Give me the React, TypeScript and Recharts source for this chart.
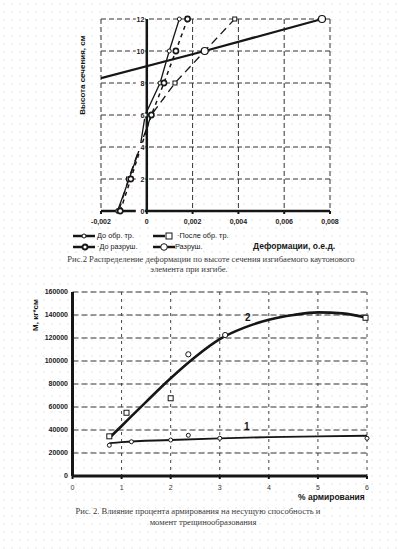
import {
  LineChart, ComposedChart, Line, Scatter, XAxis, YAxis,
  CartesianGrid, ReferenceLine, ReferenceDot,
} from 'recharts';

// ---- Рис.2 (верх): деформации по высоте сечения ----
const DEF_TICKS = [-0.002, 0, 0.002, 0.004, 0.006, 0.008];
const HEIGHT_TICKS = [0, 2, 4, 6, 8, 10, 12];

const beforeCrack = [
  { x: -0.00128, y: 0 }, { x: -0.00077, y: 2 }, { x: -0.00029, y: 4 },
  { x: -0.00007, y: 6 }, { x: 0.00058, y: 8 }, { x: 0.00098, y: 10 }, { x: 0.00142, y: 12 },
];
const afterCrack = [
  { x: -0.00122, y: 0 }, { x: -0.0008, y: 2 }, { x: -0.0003, y: 4 },
  { x: 0.0002, y: 6 }, { x: 0.00123, y: 8 }, { x: 0.00253, y: 10 }, { x: 0.00384, y: 12 },
];
const beforeFail = [
  { x: -0.00116, y: 0 }, { x: -0.0007, y: 2 }, { x: -0.00025, y: 4 },
  { x: 0.0002, y: 6 }, { x: 0.00075, y: 8 }, { x: 0.00127, y: 10 }, { x: 0.00178, y: 12 },
];
const failure = [
  { x: -0.002, y: 8.3 }, { x: 0.00253, y: 10 }, { x: 0.00765, y: 12 },
];

// ---- Рис. 2 (низ): влияние процента армирования ----
const ARM_TICKS = [0, 1, 2, 3, 4, 5, 6];
const M_TICKS = [0, 20000, 40000, 60000, 80000, 100000, 120000, 140000, 160000];

const curve2 = [
  { x: 0.75, y: 33000 }, { x: 1, y: 43500 }, { x: 1.5, y: 64500 }, { x: 2, y: 85000 },
  { x: 2.5, y: 103500 }, { x: 3, y: 119000 }, { x: 3.5, y: 129000 }, { x: 4, y: 135800 },
  { x: 4.5, y: 140000 }, { x: 5, y: 142300 }, { x: 5.5, y: 141400 }, { x: 6, y: 137600 },
];
const curve1 = [
  { x: 0.75, y: 28500 }, { x: 1, y: 29500 }, { x: 2, y: 31300 }, { x: 3, y: 32800 },
  { x: 4, y: 33800 }, { x: 5, y: 34500 }, { x: 6, y: 35000 },
];
const squares2 = [
  { x: 0.75, y: 34500 }, { x: 1.1, y: 55000 }, { x: 2, y: 67600 }, { x: 5.97, y: 137600 },
];
const circles2 = [{ x: 2.36, y: 105800 }, { x: 3.11, y: 122600 }];
const points1 = [
  { x: 0.75, y: 26700 }, { x: 1.2, y: 29800 }, { x: 2, y: 31300 },
  { x: 2.36, y: 35400 }, { x: 3, y: 32800 }, { x: 6, y: 32800 },
];

const INK = '#161616';
const SANS = '"Liberation Sans", Arial, sans-serif';
const SERIF = '"Liberation Serif", "Times New Roman", serif';

const fmtDef = (v: number) => (v === 0 ? '0' : v.toFixed(3).replace('.', ','));

const openCircle = (r: number, sw = 1) => (p: any) =>
  <circle key={p.index} cx={p.cx} cy={p.cy} r={r} fill="#fff" stroke={INK} strokeWidth={sw} />;
const openSquare = (s: number) => (p: any) =>
  <rect key={p.index} x={p.cx - s / 2} y={p.cy - s / 2} width={s} height={s} fill="#fff" stroke={INK} strokeWidth={1} />;
const failDot = (p: any) =>
  p.index === 0 ? <g key={p.index} /> : openCircle(3.5, 1.2)(p);

function Icon({ kind }: { kind: string }) {
  return (
    <svg width={22} height={8} style={{ verticalAlign: 'middle' }}>
      <line x1={0} y1={4} x2={kind === 'sq' ? 12 : 22} y2={4} stroke={INK} strokeWidth={2.5} />
      {kind === 'c' && <circle cx={11} cy={4} r={2} fill="#fff" stroke={INK} />}
      {kind === 'sq' && <rect x={13} y={1} width={6} height={6} fill="#fff" stroke={INK} />}
      {kind === 'd' && <circle cx={12} cy={4} r={2.5} fill="#fff" stroke={INK} strokeWidth={1.8} />}
      {kind === 'C' && <circle cx={11} cy={4} r={3.3} fill="#fff" stroke={INK} />}
    </svg>
  );
}

const abs = (left: number, top: number, extra: any = {}) => ({
  position: 'absolute' as const, left, top, whiteSpace: 'nowrap' as const, ...extra,
});

export default function App() {
  return (
    <div style={{
      position: 'absolute', left: 0, top: 0, width: 398, height: 549, background: '#fff',
      backgroundImage: 'radial-gradient(circle, #d2d2d2 0.5px, transparent 0.8px)',
      backgroundSize: '8px 8px', fontFamily: SANS, color: INK,
    }}>
      <div style={abs(0, 0)}>
        <LineChart width={398} height={245} margin={{ top: 19, right: 68, left: 101, bottom: 4 }}>
          <CartesianGrid strokeDasharray="5 3" stroke="#333" />
          <XAxis type="number" dataKey="x" domain={[-0.002, 0.008]} ticks={DEF_TICKS}
            allowDataOverflow tickFormatter={fmtDef} height={30}
            axisLine={{ stroke: INK, strokeWidth: 2.5 }} tickLine={{ stroke: INK, strokeWidth: 2 }}
            tickSize={3} tickMargin={5}
            tick={{ fontSize: 7, fontWeight: 'bold', fill: '#222', fontFamily: SANS }} />
          <YAxis type="number" dataKey="y" domain={[0, 12]} ticks={HEIGHT_TICKS} hide width={0} />
          <ReferenceLine x={0} stroke={INK} strokeWidth={2.5} />
          <Line data={beforeCrack} dataKey="y" stroke={INK} strokeWidth={1.3}
            dot={openCircle(2)} isAnimationActive={false} />
          <Line data={afterCrack} dataKey="y" stroke={INK} strokeWidth={1.3} strokeDasharray="8 5"
            dot={openSquare(4)} isAnimationActive={false} />
          <Line data={beforeFail} dataKey="y" stroke={INK} strokeWidth={1.5} strokeDasharray="4 4"
            dot={openCircle(2.6, 1.6)} isAnimationActive={false} />
          <Line data={failure} dataKey="y" stroke={INK} strokeWidth={2.2}
            dot={failDot} isAnimationActive={false} />
          {HEIGHT_TICKS.map(v => (
            <ReferenceDot key={v} x={0} y={v} r={0} shape={(p: any) => (
              <g>
                <rect x={p.cx - 11} y={p.cy - 4} width={9} height={8} fill="#fff" />
                <text x={p.cx - 2.5} y={p.cy + 2.5} textAnchor="end" fontSize={7}
                  fontWeight="bold" fill="#222" fontFamily={SANS}>{v}</text>
              </g>
            )} />
          ))}
        </LineChart>
      </div>

      <div style={abs(81.5, 75, { transform: 'translate(-50%, -50%) rotate(-90deg)', fontSize: 8, fontWeight: 'bold' })}>
        Высота сечения, см
      </div>

      <div style={abs(73, 230, { fontSize: 7.3, lineHeight: '11px' })}>
        <div><Icon kind="c" /> До обр. тр.</div>
        <div><Icon kind="d" /> ·До разруш.</div>
      </div>
      <div style={abs(153, 230, { fontSize: 7.3, lineHeight: '11px' })}>
        <div><Icon kind="sq" /> ·После обр. тр.</div>
        <div><Icon kind="C" />Разруш.</div>
      </div>
      <div style={abs(253, 241, { fontSize: 8.5, fontWeight: 'bold' })}>Деформации, о.е.д.</div>

      <div style={{ position: 'absolute', left: 0, top: 254, width: 398, textAlign: 'center',
        fontFamily: SERIF, fontSize: 8.6, lineHeight: '10px', color: '#3a3a3a' }}>
        <div style={{ marginLeft: 24 }}>Рис.2 Распределение деформации по высоте сечения изгибаемого каутонового</div>
        <div style={{ marginLeft: -20 }}>элемента при изгибе.</div>
      </div>

      <div style={abs(0, 280)}>
        <ComposedChart width={398} height={220} margin={{ top: 12, right: 31, left: 0, bottom: 4 }}>
          <CartesianGrid vertical={false} strokeDasharray="6 3" stroke="#333" />
          <CartesianGrid horizontal={false} strokeDasharray="3 4" stroke="#444" />
          <XAxis type="number" dataKey="x" domain={[0, 6]} ticks={ARM_TICKS} height={20}
            axisLine={{ stroke: INK, strokeWidth: 3 }} tickLine={{ stroke: INK, strokeWidth: 2 }}
            tickSize={3} tickMargin={6}
            tick={{ fontSize: 7, fill: '#333', fontFamily: SANS }} />
          <YAxis type="number" domain={[0, 160000]} ticks={M_TICKS} width={72.5}
            axisLine={{ stroke: INK, strokeWidth: 3 }} tickLine={false}
            tickSize={2} tickMargin={2.5}
            tick={{ fontSize: 7, fontWeight: 'bold', fill: '#222', fontFamily: SANS }} />
          <Line data={curve2} dataKey="y" type="monotone" stroke={INK} strokeWidth={2.6}
            dot={false} isAnimationActive={false} />
          <Line data={curve1} dataKey="y" type="monotone" stroke={INK} strokeWidth={1.8}
            dot={false} isAnimationActive={false} />
          <Scatter data={squares2} dataKey="y" shape={openSquare(5)} isAnimationActive={false} />
          <Scatter data={circles2} dataKey="y" shape={openCircle(2.6)} isAnimationActive={false} />
          <Scatter data={points1} dataKey="y" shape={openCircle(2)} isAnimationActive={false} />
          <ReferenceDot x={3.57} y={137000} r={0} shape={(p: any) => (
            <text x={p.cx} y={p.cy + 3} textAnchor="middle" fontSize={10} fontWeight="bold"
              fill={INK} fontFamily={SANS}>2</text>
          )} />
          <ReferenceDot x={3.55} y={42300} r={0} shape={(p: any) => (
            <text x={p.cx} y={p.cy + 3} textAnchor="middle" fontSize={10} fontWeight="bold"
              fill={INK} fontFamily={SANS}>1</text>
          )} />
        </ComposedChart>
      </div>

      <div style={abs(35, 315, { transform: 'translate(-50%, -50%) rotate(-90deg)', fontSize: 8, fontWeight: 'bold' })}>
        М, кг*см
      </div>
      <div style={abs(298, 492, { fontSize: 8.5, fontWeight: 'bold' })}>% армирования</div>

      <div style={{ position: 'absolute', left: 0, top: 506, width: 398, textAlign: 'center',
        fontFamily: SERIF, fontSize: 8.6, lineHeight: '10.5px', color: '#3a3a3a' }}>
        <div style={{ marginLeft: -2 }}>Рис. 2. Влияние процента армирования на несущую способность и</div>
        <div style={{ marginLeft: 8 }}>момент трещинообразования</div>
      </div>
    </div>
  );
}
